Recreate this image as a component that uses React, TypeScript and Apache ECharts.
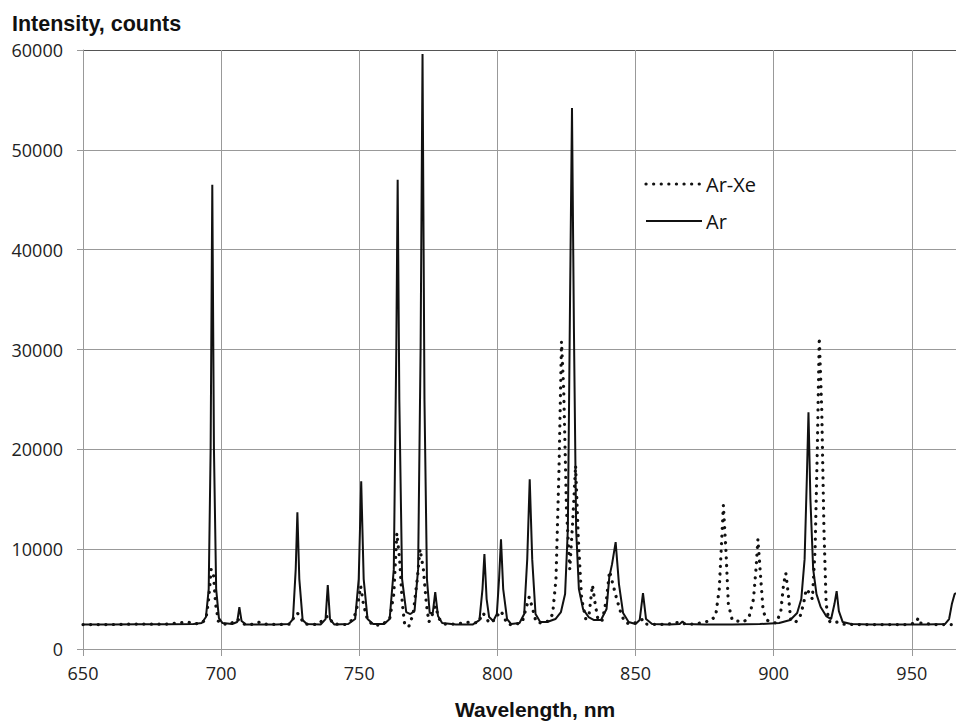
import React, { useEffect, useRef } from "react";
import * as echarts from "echarts";

// Wavelength (nm) / intensity (counts) pairs
const arSpectrum: [number, number][] = [
  [650, 2450], [660, 2450], [670, 2470], [680, 2480], [690, 2500],
  [693, 2600], [694.5, 3200], [695.5, 6000], [696.2, 20000], [696.8, 46500], [697.4, 20000], [698.2, 6000], [699.2, 3100], [700.5, 2600],
  [704, 2500], [705.8, 2700], [706.6, 4200], [707.4, 2800], [709, 2450],
  [715, 2450], [720, 2450], [724.5, 2500], [726, 3000], [727, 8000], [727.6, 13700], [728.3, 7000], [729.5, 2900], [731, 2500],
  [736, 2450], [737.8, 3000], [738.6, 6400], [739.4, 3000], [741, 2450],
  [746, 2500], [748.5, 3000], [749.8, 7000], [750.7, 16800], [751.6, 7000], [753, 3000], [755, 2500],
  [759, 2500], [761, 3000], [762.5, 8000], [763.4, 30000], [763.9, 47000], [764.5, 25000], [765.5, 7000], [767, 3700], [768.5, 3500],
  [770, 3800], [771.3, 8000], [772.2, 30000], [772.9, 59600], [773.6, 25000], [774.5, 7000], [775.5, 3600], [776.6, 3600], [777.5, 5700], [778.5, 3300], [780, 2600], [785, 2450],
  [791, 2450], [793.5, 2900], [794.6, 6000], [795.3, 9500], [796.1, 5000], [797, 3200], [798.5, 2800], [799.8, 3500], [800.6, 7000], [801.3, 11000], [802.1, 6000], [803.5, 3000], [805, 2500],
  [808, 2600], [809.7, 3500], [810.8, 9000], [811.7, 17000], [812.6, 9000], [813.8, 3500], [815.5, 2700],
  [818, 2700], [821, 3000], [823, 3700], [824.5, 5500], [825.5, 12000], [826.3, 35000], [827, 54200], [827.7, 32000], [828.5, 12000], [829.5, 6000], [831, 4000], [833, 3200], [835, 2900], [837.5, 2900],
  [839.5, 4000], [840.5, 7200], [841.5, 8500], [842.8, 10700], [844, 6500], [845.5, 3600], [847.5, 2700], [850, 2500], [851.5, 2900], [852.7, 5600], [853.8, 3000], [856, 2500],
  [862, 2450], [866, 2500], [867, 2750], [868, 2500], [875, 2450], [885, 2450], [895, 2500], [902, 2600], [906, 2900],
  [908.5, 3600], [910, 5000], [911.2, 9000], [912, 17000], [912.6, 23700], [913.3, 15000], [914.3, 8000], [915.5, 5500], [917, 4200], [919, 3300], [920.8, 3000],
  [922, 4500], [922.8, 5800], [923.6, 3800], [925, 2700], [928, 2500], [935, 2450], [945, 2450], [955, 2450], [962, 2500],
  [963.5, 3000], [964.5, 4500], [965.5, 5500], [966, 5600],
];

const arXeSpectrum: [number, number][] = [
  [650, 2450], [660, 2450], [670, 2500], [680, 2480], [688, 2700], [690, 2500],
  [693, 2600], [694.5, 3000], [695.5, 5000], [696.4, 8000], [697.2, 7500], [698, 4500], [699, 2800], [700.5, 2500],
  [703, 2450], [706, 3000], [707, 2700], [709, 2400], [712, 2500], [714, 2700], [716, 2500], [720, 2450],
  [725, 2500], [726.8, 3400], [727.6, 3600], [728.5, 3300], [730, 2500],
  [735, 2450], [738, 3200], [739, 3300], [740.5, 2500],
  [745, 2450], [748, 3000], [749.5, 4500], [750.5, 6300], [751.5, 4500], [753, 2900], [755, 2400],
  [758, 2400], [761, 3000], [762.5, 5500], [763.6, 11600], [764.6, 9000], [765.6, 4500], [766.5, 2300], [768, 2300],
  [769.5, 3500], [771, 7000], [772, 10000], [773.2, 8000], [774.3, 4500], [775.2, 2700], [776.5, 3500], [777.5, 4300], [779, 3000], [781, 2500],
  [785, 2500], [790, 2700], [793, 2600], [794.7, 3600], [795.7, 3300], [797, 2600], [799.5, 3000], [800.8, 3800], [802, 3500], [803.5, 2500], [806, 2400],
  [809, 2700], [810.5, 4200], [811.5, 5200], [812.5, 4300], [814, 2700], [816, 2600],
  [818.5, 2800], [820, 3500], [821.2, 7000], [822.3, 18000], [823.2, 30800], [824, 26000], [825, 14000], [826.2, 8000], [827.3, 13000], [828.3, 18400], [829.3, 11000], [830.5, 5000],
  [832, 3000], [833.2, 3500], [834.4, 6400], [835.4, 4500], [836.5, 2800], [838, 2900], [839.5, 5000], [840.6, 7800], [841.8, 6500], [843.2, 5000], [844.5, 3800], [846, 2700], [848, 2500],
  [851, 2700], [852.7, 3000], [854, 2500], [858, 2450], [862, 2500], [866, 2700], [868, 2500], [872, 2500], [874.5, 2700], [877, 2800],
  [879, 3300], [880.3, 6000], [881.2, 11000], [881.8, 14400], [882.7, 10000], [883.6, 4500], [885, 2900], [887, 2800], [889, 2700],
  [891, 3100], [892.7, 5000], [893.6, 8000], [894.3, 11000], [895.2, 7500], [896.2, 3800], [897.5, 2900], [899, 2700], [901, 2600],
  [902.6, 3800], [903.6, 6500], [904.4, 7600], [905.3, 5500], [906.2, 2800], [908, 2700], [909.5, 3200], [910.8, 4500], [911.8, 6000], [913, 5600], [914, 5000],
  [915, 10000], [915.8, 20000], [916.5, 31200], [917.4, 24000], [918.2, 12000], [919, 4500], [920, 2800], [921.5, 2600], [923, 2700], [925, 2500],
  [930, 2450], [940, 2450], [948, 2450], [951.5, 2600], [952.3, 3100], [953, 2600], [958, 2450], [966, 2450],
];

const seriesNames = ["Ar-Xe", "Ar"];
const yTitle = "Intensity, counts";
const xTitle = "Wavelength, nm";

export default function App() {
  const ref = useRef<HTMLDivElement>(null);
  useEffect(() => {
    if (!ref.current) return;
    const chart = echarts.init(ref.current, undefined, { renderer: "svg" });
    const grid = "#999999";
    const ink = "#111111";
    const dotStyle = { type: [0.1, 7.5], cap: "round", width: 3.2, color: ink };
    const legendFont = { fontFamily: "Open Sans, sans-serif", fontSize: 20, fill: ink };
    chart.setOption({
      animation: false,
      backgroundColor: "#ffffff",
      title: [
        {
          text: yTitle,
          left: 12,
          top: 13,
          padding: 0,
          textStyle: { fontFamily: "Liberation Sans, Arial, sans-serif", fontWeight: "bold", fontSize: 21.5, color: ink },
        },
        {
          text: xTitle,
          left: 455,
          top: 699,
          padding: 0,
          textStyle: { fontFamily: "Liberation Sans, Arial, sans-serif", fontWeight: "bold", fontSize: 21, color: ink },
        },
      ],
      graphic: [
        {
          type: "line",
          shape: { x1: 646, y1: 184, x2: 700, y2: 184 },
          style: { stroke: ink, lineWidth: 3.2, lineDash: [0.1, 7.5], lineCap: "round" },
        },
        {
          type: "text",
          x: 706,
          y: 184,
          style: { text: seriesNames[0], ...legendFont, verticalAlign: "middle" },
        },
        {
          type: "line",
          shape: { x1: 646, y1: 221, x2: 702, y2: 221 },
          style: { stroke: ink, lineWidth: 2 },
        },
        {
          type: "text",
          x: 706,
          y: 221,
          style: { text: seriesNames[1], ...legendFont, verticalAlign: "middle" },
        },
      ],
      grid: { left: 83, right: 0, top: 50, bottom: 74, containLabel: false },
      xAxis: {
        type: "value",
        min: 650,
        max: 966,
        interval: 50,
        axisLine: { show: true, lineStyle: { color: grid, width: 1 } },
        axisTick: { show: true, length: 7, lineStyle: { color: grid } },
        axisLabel: { margin: 15, fontFamily: "Open Sans, sans-serif", fontSize: 18, color: "#222", showMaxLabel: false },
        splitLine: { show: true, lineStyle: { color: grid, width: 1 } },
      },
      yAxis: {
        type: "value",
        min: 0,
        max: 60000,
        interval: 10000,
        axisLine: { show: true, lineStyle: { color: grid, width: 1 } },
        axisTick: { show: true, length: 6, lineStyle: { color: grid } },
        axisLabel: {
          margin: 20,
          fontFamily: "Open Sans, sans-serif",
          fontSize: 18,
          color: "#222",
          formatter: (v: number) => String(v),
        },
        splitLine: {
          show: true,
          lineStyle: { color: [grid, grid, grid, grid, grid, grid, "#555555"], width: 1 },
        },
      },
      series: [
        {
          name: seriesNames[0],
          type: "line",
          data: arXeSpectrum,
          symbol: "none",
          showSymbol: false,
          lineStyle: dotStyle,
          itemStyle: { color: ink },
          z: 3,
        },
        {
          name: seriesNames[1],
          type: "line",
          data: arSpectrum,
          symbol: "none",
          showSymbol: false,
          lineStyle: { type: "solid", width: 2, color: ink },
          itemStyle: { color: ink },
          z: 2,
        },
      ],
    });
    return () => chart.dispose();
  }, []);
  return (
    <div
      ref={ref}
      style={{ position: "fixed", left: 0, top: 0, width: 956, height: 723, background: "#fff" }}
    />
  );
}
